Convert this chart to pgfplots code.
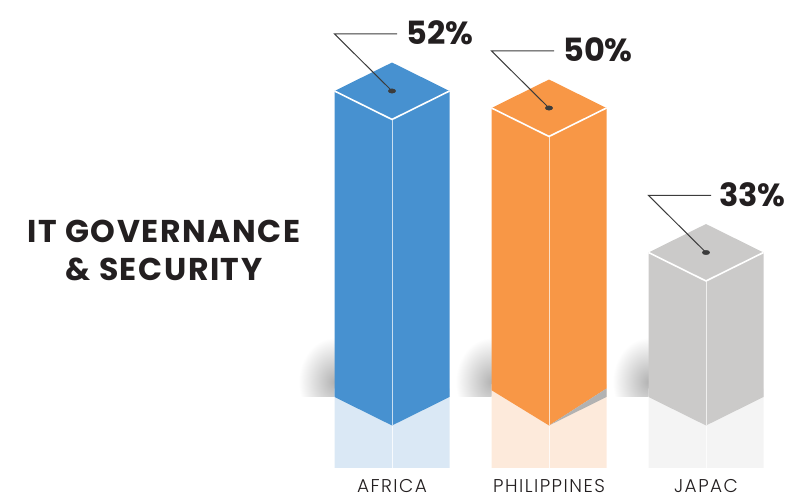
\documentclass[border=0pt]{standalone}
\usepackage{pgfplots}
\pgfplotsset{compat=1.18}
\usepackage{fontspec}
\setmainfont{Poppins}
\newfontfamily\lightf{Poppins Light}
\definecolor{cblue}{HTML}{4791D0}
\definecolor{cblueL}{HTML}{DAE8F5}
\definecolor{corange}{HTML}{F89746}
\definecolor{corangeL}{HTML}{FDEADB}
\definecolor{cgray}{HTML}{CBCAC9}
\definecolor{cgrayL}{HTML}{F4F4F4}
\definecolor{ctext}{HTML}{231F20}
\definecolor{cline}{HTML}{3C3C3C}
\begin{document}
\begin{tikzpicture}
\begin{axis}[scale only axis, width=800pt, height=500pt,
  xmin=0, xmax=800, ymin=3.882, ymax=62.706, hide axis, clip=false]
\path (rel axis cs:0,0) rectangle (rel axis cs:1,1);
% soft shadows
\begin{scope}
\clip (axis cs:290,16) rectangle (axis cs:334.5,26);
\shade[inner color=black!30, outer color=white] (axis cs:334.5,17.8) ellipse [x radius=36pt, y radius=44pt];
\end{scope}
\begin{scope}
\clip (axis cs:447,16) rectangle (axis cs:491.5,26);
\shade[inner color=black!30, outer color=white] (axis cs:491.5,17.8) ellipse [x radius=36pt, y radius=44pt];
\end{scope}
\begin{scope}
\clip (axis cs:604,16) rectangle (axis cs:648.5,26);
\shade[inner color=black!30, outer color=white] (axis cs:648.5,17.8) ellipse [x radius=36pt, y radius=44pt];
\end{scope}
% ---------------- AFRICA 52
\addplot[fill=cblueL, draw=none] coordinates {(334.5,17) (392,12.65) (449.5,17) (449.5,7.65) (334.5,7.65)} -- cycle;
\addplot[draw=white, line width=1pt, opacity=0.8] coordinates {(392,12.65) (392,7.65)};
\addplot[fill=cblue, draw=none] coordinates {(334.5,16) (334.5,52) (392,48.65) (392,12.65)} -- cycle;
\addplot[fill=cblue, draw=none] coordinates {(392,12.65) (392,48.65) (449.5,52) (449.5,16)} -- cycle;
\addplot[fill=cblue, draw=none] coordinates {(334.5,52) (392,55.35) (449.5,52) (392,48.65)} -- cycle;
\addplot[draw=white, line width=1.6pt] coordinates {(334.5,52) (392,48.65) (449.5,52)};
\addplot[draw=white, line width=1pt, opacity=0.7] coordinates {(392,48.65) (392,12.65)};
% ---------------- PHILIPPINES 50
\addplot[fill=corangeL, draw=none] coordinates {(491.5,17.5) (549,12.65) (606.5,17.5) (606.5,7.65) (491.5,7.65)} -- cycle;
\addplot[draw=white, line width=1pt, opacity=0.8] coordinates {(549,12.65) (549,7.65)};
\addplot[fill=corange, draw=none] coordinates {(491.5,16.8) (491.5,50) (549,46.65) (549,12.65)} -- cycle;
\addplot[fill=corange, draw=none] coordinates {(549,12.65) (549,46.65) (606.5,50) (606.5,17.0)} -- cycle;
\addplot[fill=black!30, draw=none] coordinates {(549,12.65) (606.5,17.0) (606.5,16)} -- cycle;
\addplot[fill=corange, draw=none] coordinates {(491.5,50) (549,53.35) (606.5,50) (549,46.65)} -- cycle;
\addplot[draw=white, line width=1.6pt] coordinates {(491.5,50) (549,46.65) (606.5,50)};
\addplot[draw=white, line width=1pt, opacity=0.7] coordinates {(549,46.65) (549,12.65)};
% ---------------- JAPAC 33
\addplot[fill=cgrayL, draw=none] coordinates {(648.5,17) (706,12.65) (763.5,17) (763.5,7.65) (648.5,7.65)} -- cycle;
\addplot[draw=white, line width=1pt, opacity=0.8] coordinates {(706,12.65) (706,7.65)};
\addplot[fill=cgray, draw=none] coordinates {(648.5,16) (648.5,33) (706,29.65) (706,12.65)} -- cycle;
\addplot[fill=cgray, draw=none] coordinates {(706,12.65) (706,29.65) (763.5,33) (763.5,16)} -- cycle;
\addplot[fill=cgray, draw=none] coordinates {(648.5,33) (706,36.35) (763.5,33) (706,29.65)} -- cycle;
\addplot[draw=white, line width=1.6pt] coordinates {(648.5,33) (706,29.65) (763.5,33)};
\addplot[draw=white, line width=1pt, opacity=0.7] coordinates {(706,29.65) (706,12.65)};
% ---------------- leader lines and dots
\addplot[draw=cline, line width=1pt] coordinates {(397,58.71) (334.5,58.71) (392,52)};
\addplot[draw=cline, line width=1pt] coordinates {(554,56.71) (491.5,56.71) (549,50)};
\addplot[draw=cline, line width=1pt] coordinates {(711,39.71) (648.5,39.71) (706,33)};
\addplot[only marks, mark=*, mark size=2.2pt, mark options={xscale=1.7, fill=cline, draw=cline}] coordinates {(392,52) (549,50) (706,33)};
% ---------------- texts
\node[anchor=base west, font=\fontsize{32}{32}\selectfont\bfseries, text=ctext, inner sep=0pt] at (axis cs:406,57.42) {52\%};
\node[anchor=base west, font=\fontsize{32}{32}\selectfont\bfseries, text=ctext, inner sep=0pt] at (axis cs:563,55.42) {50\%};
\node[anchor=base west, font=\fontsize{32}{32}\selectfont\bfseries, text=ctext, inner sep=0pt] at (axis cs:719,38.42) {33\%};
\node[anchor=base, font=\fontsize{31.5}{31.5}\selectfont\bfseries\addfontfeatures{LetterSpace=5}, text=ctext, inner sep=0pt] at (axis cs:164,34.118) {IT GOVERNANCE};
\node[anchor=base, font=\fontsize{31.5}{31.5}\selectfont\bfseries\addfontfeatures{LetterSpace=5}, text=ctext, inner sep=0pt] at (axis cs:164,29.647) {\& SECURITY};
\node[anchor=base, font=\fontsize{18.5}{18.5}\lightf\selectfont\addfontfeatures{LetterSpace=8}, text=ctext, inner sep=0pt] at (axis cs:392,4.706) {AFRICA};
\node[anchor=base, font=\fontsize{18.5}{18.5}\lightf\selectfont\addfontfeatures{LetterSpace=8}, text=ctext, inner sep=0pt] at (axis cs:549,4.706) {PHILIPPINES};
\node[anchor=base, font=\fontsize{18.5}{18.5}\lightf\selectfont\addfontfeatures{LetterSpace=8}, text=ctext, inner sep=0pt] at (axis cs:706,4.706) {JAPAC};
\end{axis}
\end{tikzpicture}
\end{document}
